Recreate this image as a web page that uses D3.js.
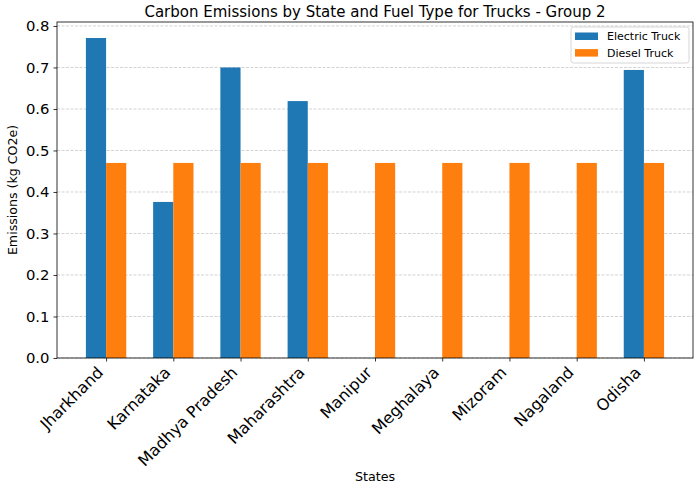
<!DOCTYPE html>
<html>
<head>
<meta charset="utf-8">
<script src="https://cdn.jsdelivr.net/npm/d3@7"></script>
<style>
  body { margin: 0; background: #fff; }
  text { font-family: "DejaVu Sans", sans-serif; }
</style>
</head>
<body>
<svg id="chart" width="700" height="489"></svg>
<script>
// Data.
const states = ['Jharkhand', 'Karnataka', 'Madhya Pradesh', 'Maharashtra', 'Manipur',
                'Meghalaya', 'Mizoram', 'Nagaland', 'Odisha'];
const electric = [0.771, 0.376, 0.700, 0.619, 0, 0, 0, 0, 0.694];
const diesel = [0.47, 0.47, 0.47, 0.47, 0.47, 0.47, 0.47, 0.47, 0.47];
const yTicks = [0.0, 0.1, 0.2, 0.3, 0.4, 0.5, 0.6, 0.7, 0.8];

const colors = { electric: '#1f77b4', diesel: '#ff7f0e' };
const barW = 0.3;

const svg = d3.select('#chart');
const margin = { left: 57, right: 7, top: 22, bottom: 131 };
const W = 700, H = 489;

// Same autoscale as matplotlib: 5% margin in x, top margin in y.
const span = states.length - 1 + 2 * barW;
const x = d3.scaleLinear()
  .domain([-barW - 0.05 * span, states.length - 1 + barW + 0.05 * span])
  .range([margin.left, W - margin.right]);
const ymax = d3.max(electric.concat(diesel)) * 1.05;
const y = d3.scaleLinear()
  .domain([0, ymax])
  .range([H - margin.bottom, margin.top]);

// Grid lines.
svg.append('g')
  .selectAll('line')
  .data(yTicks)
  .join('line')
  .attr('x1', margin.left).attr('x2', W - margin.right)
  .attr('y1', d => y(d)).attr('y2', d => y(d))
  .attr('stroke', '#b0b0b0')
  .attr('stroke-opacity', 0.7)
  .attr('stroke-width', 0.8)
  .attr('stroke-dasharray', '3,1.5');

// Bars.
svg.append('g')
  .selectAll('rect')
  .data(electric)
  .join('rect')
  .attr('x', (d, i) => x(i - barW))
  .attr('width', (d, i) => x(i) - x(i - barW))
  .attr('y', d => y(d))
  .attr('height', d => y(0) - y(d))
  .attr('fill', colors.electric);

svg.append('g')
  .selectAll('rect')
  .data(diesel)
  .join('rect')
  .attr('x', (d, i) => x(i))
  .attr('width', (d, i) => x(i + barW) - x(i))
  .attr('y', d => y(d))
  .attr('height', d => y(0) - y(d))
  .attr('fill', colors.diesel);

// Axes.
const yAxis = svg.append('g')
  .attr('transform', `translate(${margin.left},0)`)
  .call(d3.axisLeft(y).tickValues(yTicks).tickFormat(d3.format('.1f')).tickSize(3.5).tickPadding(4));
yAxis.select('.domain').remove();
yAxis.selectAll('text').attr('font-size', 14.8).attr('fill', '#000');
yAxis.selectAll('line').attr('stroke', '#000').attr('stroke-width', 0.8);

const xAxis = svg.append('g')
  .attr('transform', `translate(0,${H - margin.bottom})`)
  .call(d3.axisBottom(x).tickValues(d3.range(states.length)).tickFormat(i => states[i]).tickSize(3.5));
xAxis.select('.domain').remove();
xAxis.selectAll('line').attr('stroke', '#000').attr('stroke-width', 0.8);
xAxis.selectAll('text')
  .attr('font-size', 16)
  .attr('fill', '#000')
  .attr('text-anchor', 'end')
  .attr('dy', null)
  .attr('y', 0)
  .attr('transform', 'translate(-2.5,15.5) rotate(-45)');

// Frame.
svg.append('rect')
  .attr('x', margin.left).attr('y', margin.top)
  .attr('width', W - margin.left - margin.right)
  .attr('height', H - margin.top - margin.bottom)
  .attr('fill', 'none')
  .attr('stroke', '#000')
  .attr('stroke-width', 0.8);

// Titles.
svg.append('text')
  .attr('x', (margin.left + W - margin.right) / 2).attr('y', 17)
  .attr('text-anchor', 'middle')
  .attr('font-size', 15)
  .text('Carbon Emissions by State and Fuel Type for Trucks - Group 2');

svg.append('text')
  .attr('x', (margin.left + W - margin.right) / 2).attr('y', 481)
  .attr('text-anchor', 'middle')
  .attr('font-size', 12.7)
  .text('States');

svg.append('text')
  .attr('transform', `translate(17,${(margin.top + H - margin.bottom) / 2}) rotate(-90)`)
  .attr('text-anchor', 'middle')
  .attr('font-size', 12.6)
  .text('Emissions (kg CO2e)');

// Legend.
const legend = svg.append('g').attr('transform', 'translate(571,27)');
legend.append('rect')
  .attr('width', 118).attr('height', 36)
  .attr('rx', 2.5)
  .attr('fill', '#fff').attr('fill-opacity', 0.8)
  .attr('stroke', '#cccccc').attr('stroke-width', 0.8);
const items = [['Electric Truck', colors.electric], ['Diesel Truck', colors.diesel]];
items.forEach(function (it, i) {
  legend.append('rect')
    .attr('x', 4).attr('y', 5.5 + i * 16.6)
    .attr('width', 23).attr('height', 7.5)
    .attr('fill', it[1]);
  legend.append('text')
    .attr('x', 36).attr('y', 13 + i * 16.6)
    .attr('font-size', 11)
    .text(it[0]);
});
</script>
</body>
</html>
